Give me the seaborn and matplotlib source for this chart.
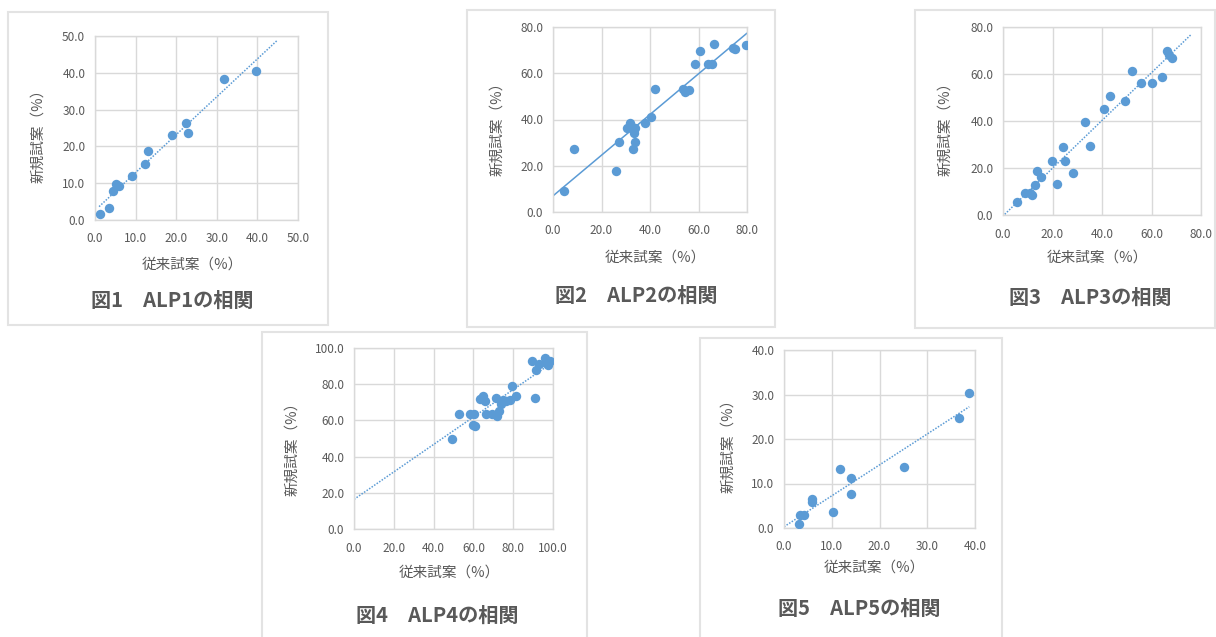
import numpy as np
import matplotlib
matplotlib.use("Agg")
import matplotlib.pyplot as plt
import seaborn as sns
from matplotlib.patches import Rectangle

W, H = 1216, 637
BLUE = "#5B9BD5"
GRID = "#D9D9D9"
TEXT = "#595959"

# --- data ---
captions = ["図1　ALP1の相関", "図2　ALP2の相関", "図3　ALP3の相関",
            "図4　ALP4の相関", "図5　ALP5の相関"]
x_label = "従来試案（%）"
y_label = "新規試案（%）"

alp1_old = [1.2, 3.5, 4.4, 5.2, 6.0, 9.1, 12.2, 13.0, 19.0, 22.3, 22.8, 31.7, 39.7]
alp1_new = [1.6, 3.2, 7.9, 9.8, 9.2, 12.0, 15.2, 18.7, 23.0, 26.4, 23.6, 38.3, 40.6]

alp2_old = [4.4, 8.7, 26.0, 27.4, 30.7, 31.8, 32.5, 33.9, 33.2, 33.9, 32.9, 38.0, 40.5,
            42.1, 53.5, 54.5, 55.9, 58.6, 60.7, 63.9, 65.5, 66.2, 74.2, 74.9, 79.7]
alp2_new = [8.9, 27.3, 17.8, 30.2, 36.2, 38.6, 36.9, 36.2, 34.1, 30.4, 27.2, 38.6, 40.9,
            53.4, 53.4, 51.7, 52.7, 63.9, 69.7, 63.8, 64.2, 72.5, 71.1, 70.7, 72.1]

alp3_old = [5.8, 8.8, 10.8, 11.9, 12.8, 13.8, 15.5, 19.8, 22.0, 24.3, 25.0, 28.3,
            33.1, 35.1, 40.7, 43.4, 49.2, 52.2, 55.7, 60.3, 64.1, 66.1, 67.0, 68.1]
alp3_new = [5.7, 9.5, 9.2, 8.5, 12.7, 18.8, 16.3, 23.1, 13.2, 29.0, 23.1, 18.0,
            39.6, 29.5, 45.0, 50.5, 48.4, 61.3, 56.2, 56.2, 58.8, 69.7, 68.2, 66.8]

alp4_old = [49.0, 52.7, 58.2, 59.9, 60.7, 60.4, 63.3, 64.1, 64.9, 65.7, 66.2, 69.4, 71.6,
            72.1, 72.9, 74.1, 74.9, 76.6, 78.3, 79.4, 81.6, 89.6, 90.8, 91.3, 93.0,
            95.8, 96.6, 97.3, 98.3]
alp4_new = [49.7, 63.7, 63.7, 57.6, 57.1, 63.7, 72.0, 72.4, 73.6, 70.5, 63.7, 63.7, 72.4,
            62.5, 65.0, 69.2, 71.0, 70.5, 71.0, 79.2, 73.6, 93.0, 72.4, 88.0, 91.0,
            94.5, 91.7, 90.5, 92.6]

alp5_old = [3.1, 3.3, 4.1, 5.9, 5.9, 10.3, 11.8, 14.1, 14.1, 25.2, 36.7, 38.8]
alp5_new = [0.8, 2.9, 2.9, 6.6, 5.9, 3.6, 13.2, 11.3, 7.7, 13.7, 24.8, 30.4]

axis_max = [50, 80, 80, 100, 40]
tick_step = [10, 20, 20, 20, 10]
trend_range = [(1, 45), (0, 80), (0.7, 76), (0, 100), (0, 38.8)]
trend_solid = [False, True, False, False, False]

old_vals = [alp1_old, alp2_old, alp3_old, alp4_old, alp5_old]
new_vals = [alp1_new, alp2_new, alp3_new, alp4_new, alp5_new]

# --- layout in reference pixels ---
# plot area (l, t, r, b), chart frame (l, t, r, b), xlabel, ylabel, caption centres
plot_px = [(95, 36, 298, 220), (553, 27, 747, 212), (1003, 27, 1201, 215),
           (354, 348, 553, 529), (784, 350, 975, 528)]
frame_px = [(8, 12, 328, 325), (467, 10, 775, 327), (915, 10, 1215, 328),
            (262, 332, 587, 645), (700, 338, 1002, 645)]
xlab_px = [(192, 265), (655, 258), (1097, 258), (449, 573), (874, 568)]
ylab_px = [(38, 132), (497, 125), (945, 125), (292, 445), (728, 442)]
cap_px = [(172, 300), (636, 295), (1090, 297), (437, 615), (859, 608)]


def fig_rect(l, t, r, b):
    return [l / W, 1 - b / H, (r - l) / W, (b - t) / H]


sns.set_theme(style="white")
plt.rcParams["font.family"] = ["Noto Sans CJK JP", "DejaVu Sans"]

fig = plt.figure(figsize=(W / 100, H / 100), dpi=100)
fig.patch.set_facecolor("white")

for i in range(5):
    fl, ft, fr, fb = frame_px[i]
    x0, y0, w, h = fig_rect(fl, ft, fr, fb)
    fig.add_artist(Rectangle((x0, y0), w, h, transform=fig.transFigure,
                             facecolor="white", edgecolor="#E3E3E3", lw=1.5, zorder=0))

    ax = fig.add_axes(fig_rect(*plot_px[i]))
    ax.set_zorder(2)
    xs, ys = np.array(old_vals[i]), np.array(new_vals[i])

    slope, icpt = np.polyfit(xs, ys, 1)
    tx = np.array(trend_range[i])
    ls = "-" if trend_solid[i] else (0, (1, 1))
    ax.plot(tx, slope * tx + icpt, color=BLUE, lw=1.1, ls=ls, zorder=2)

    sns.scatterplot(x=xs, y=ys, ax=ax, color=BLUE, s=46, linewidth=0, zorder=3)

    m, st = axis_max[i], tick_step[i]
    ticks = np.arange(0, m + st / 2, st)
    ax.set_xlim(0, m)
    ax.set_ylim(0, m)
    ax.set_xticks(ticks)
    ax.set_yticks(ticks)
    ax.set_xticklabels([f"{t:.1f}" for t in ticks])
    ax.set_yticklabels([f"{t:.1f}" for t in ticks])
    ax.tick_params(length=0, labelsize=8.5, labelcolor=TEXT)
    ax.tick_params(axis="x", pad=9)
    ax.tick_params(axis="y", pad=7)
    ax.grid(True, color=GRID, lw=1)
    ax.set_axisbelow(True)
    for sp in ax.spines.values():
        sp.set_color(GRID)
        sp.set_linewidth(1)
    ax.set_xlabel("")
    ax.set_ylabel("")

    fig.text(xlab_px[i][0] / W, 1 - xlab_px[i][1] / H, x_label,
             ha="center", va="center", fontsize=10.5, color=TEXT)
    fig.text(ylab_px[i][0] / W, 1 - ylab_px[i][1] / H, y_label,
             ha="center", va="center", fontsize=10.5, color=TEXT, rotation=90)
    fig.text(cap_px[i][0] / W, 1 - cap_px[i][1] / H, captions[i],
             ha="center", va="center", fontsize=14.5, color=TEXT, fontweight="bold")

fig.savefig("out.png", dpi=100, facecolor="white")
